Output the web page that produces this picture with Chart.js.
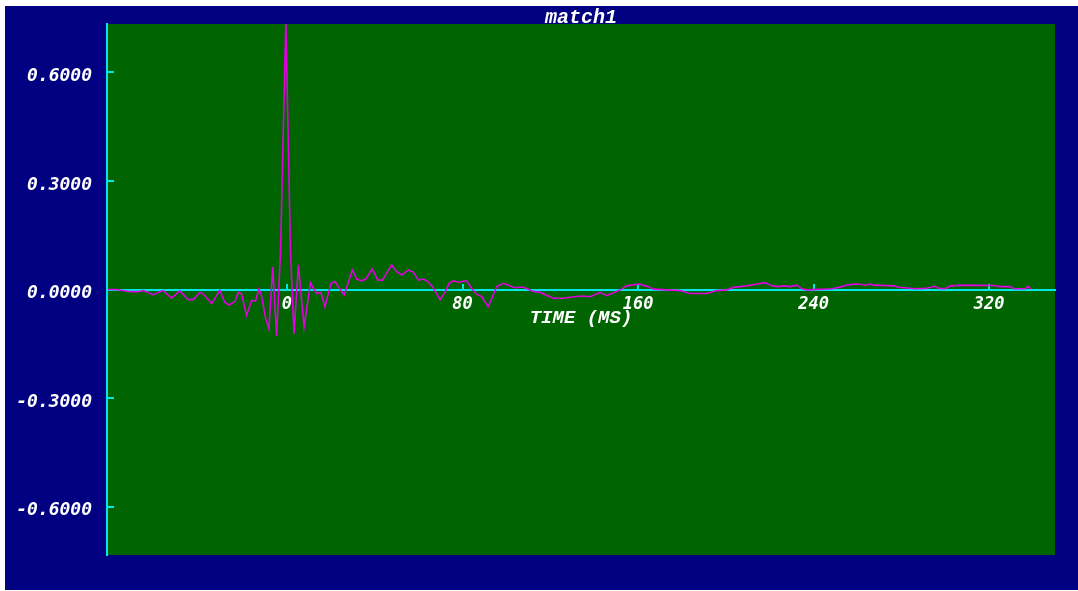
<!DOCTYPE html>
<html>
<head>
<meta charset="utf-8">
<script src="https://cdn.jsdelivr.net/npm/chart.js@4"></script>
<style>
  body { margin: 0; background: #fff; }
  #wrap { position: absolute; left: 5px; top: 6px; width: 1073px; height: 584px; background: #000080; }
</style>
</head>
<body>
<div id="wrap"><canvas id="trace" width="1073" height="584"></canvas></div>
<script>
const times = [
  -81.5, -77.7, -71.6, -67.8, -65.5, -63.2, -61.0, -58.7, -56.4, -52.6,
  -48.8, -45.0, -42.7, -39.7, -38.2, -34.3, -30.6, -28.3, -26.4, -23.7,
  -22.2, -20.7, -18.4, -16.1, -14.3, -12.8, -11.5, -9.7, -8.2, -6.5,
  -4.7, -2.9, -0.5, 1.6, 3.2, 5.2, 7.8, 10.7, 13.5, 15.5,
  17.3, 20.1, 21.9, 23.4, 26.1, 29.8, 31.8, 34.1, 35.9, 38.9,
  41.4, 43.5, 47.7, 50.0, 52.3, 55.3, 57.6, 59.9, 62.2, 64.2,
  66.3, 69.8, 72.0, 73.9, 75.8, 78.1, 79.7, 81.9, 84.2, 86.5,
  88.8, 91.7, 95.6, 98.6, 100.9, 104.0, 107.0, 109.3, 111.6, 115.4,
  121.4, 126.0, 130.6, 134.4, 138.2, 142.7, 145.8, 148.8, 151.8, 154.9,
  160.2, 164.7, 167.0, 173.1, 179.2, 183.8, 191.4, 195.9, 200.5, 203.5,
  209.6, 214.2, 218.0, 220.2, 223.3, 226.3, 229.4, 232.4, 234.7, 237.0,
  248.4, 252.9, 255.2, 259.0, 262.1, 263.6, 265.5, 267.4, 276.5, 278.8,
  286.4, 290.9, 295.5, 297.0, 300.0, 302.3, 309.9, 322.0, 325.1, 329.7,
  331.2, 336.5, 337.6, 339.1
];
const amps = [
  0.000, 0.000, -0.006, -0.006, -0.003, -0.008, -0.015, -0.008, -0.003, -0.024,
  -0.004, -0.028, -0.028, -0.008, -0.012, -0.039, -0.002, -0.036, -0.043, -0.034,
  -0.008, -0.012, -0.072, -0.030, -0.032, 0.001, -0.019, -0.080, -0.109, 0.062,
  -0.129, 0.109, 0.745, 0.109, -0.123, 0.068, -0.104, 0.018, -0.011, -0.008,
  -0.048, 0.017, 0.022, 0.008, -0.015, 0.054, 0.029, 0.024, 0.029, 0.057,
  0.026, 0.026, 0.068, 0.049, 0.040, 0.054, 0.048, 0.026, 0.029, 0.022,
  0.008, -0.028, -0.008, 0.017, 0.024, 0.020, 0.022, 0.024, 0.003, -0.013,
  -0.020, -0.048, 0.008, 0.017, 0.012, 0.005, 0.007, 0.003, -0.004, -0.008,
  -0.024, -0.024, -0.020, -0.018, -0.020, -0.008, -0.017, -0.009, -0.001, 0.010,
  0.015, 0.008, 0.001, -0.001, -0.003, -0.011, -0.011, -0.003, -0.001, 0.006,
  0.010, 0.015, 0.019, 0.012, 0.008, 0.010, 0.008, 0.012, 0.002, -0.001,
  0.002, 0.008, 0.012, 0.015, 0.014, 0.012, 0.015, 0.012, 0.010, 0.006,
  0.002, 0.003, 0.009, 0.003, 0.002, 0.010, 0.012, 0.011, 0.008, 0.008,
  0.002, 0.002, 0.009, 0.002
];
const xTicks = [0, 80, 160, 240, 320];
const yTicks = [-0.6, -0.3, 0, 0.3, 0.6];

const cyan = '#00e8e8';
const tickFont = { family: 'DejaVu Sans Mono', size: 18, style: 'italic', weight: 'bold' };

// green plotting field
const fieldBg = {
  id: 'fieldBg',
  beforeDraw(chart) {
    const { ctx, chartArea: a } = chart;
    ctx.save();
    ctx.fillStyle = '#006400';
    ctx.fillRect(a.left, a.top, a.right - a.left, a.bottom - a.top);
    ctx.restore();
  }
};

new Chart(document.getElementById('trace'), {
  type: 'line',
  data: {
    datasets: [{
      data: times.map((t, i) => ({ x: t, y: amps[i] })),
      borderColor: '#e000e0',
      borderWidth: 1.6,
      pointRadius: 0,
      tension: 0
    }]
  },
  options: {
    responsive: false,
    devicePixelRatio: 1,
    animation: false,
    layout: { padding: { left: 0, top: 0, right: 23, bottom: 35 } },
    plugins: {
      legend: { display: false },
      tooltip: { enabled: false },
      title: {
        display: true,
        fullSize: false,
        text: 'match1',
        color: '#fff',
        font: { family: 'Liberation Mono', size: 20, style: 'italic', weight: 'bold', lineHeight: '24px' },
        padding: { top: 0, bottom: -6 }
      }
    },
    scales: {
      x: {
        type: 'linear',
        position: { y: 0 },
        min: -82,
        max: 350,
        afterBuildTicks: s => { s.ticks = xTicks.map(v => ({ value: v })); },
        afterFit: s => { s.height = 40; s.paddingLeft = 0; s.paddingRight = 0; },
        border: { display: true, color: cyan, width: 2 },
        grid: { drawOnChartArea: false, drawTicks: true, tickLength: -7, color: cyan, lineWidth: 2 },
        ticks: { color: '#fff', font: { ...tickFont, size: 17 }, padding: 12, maxRotation: 0 },
        title: {
          display: true,
          text: 'TIME (MS)',
          color: '#fff',
          font: { family: 'Liberation Mono', size: 19, style: 'italic', weight: 'bold' },
          padding: 0
        }
      },
      y: {
        type: 'linear',
        position: 'left',
        min: -0.734,
        max: 0.734,
        afterBuildTicks: s => { s.ticks = yTicks.map(v => ({ value: v })); },
        afterFit: s => { s.width = 102; s.paddingTop = 0; s.paddingBottom = 0; },
        border: { display: true, color: cyan, width: 2 },
        grid: { drawOnChartArea: false, drawTicks: true, tickLength: -7, color: cyan, lineWidth: 2 },
        ticks: { color: '#fff', font: tickFont, padding: 22, labelOffset: 4, callback: v => v.toFixed(4) }
      }
    }
  },
  plugins: [fieldBg]
});
</script>
</body>
</html>
